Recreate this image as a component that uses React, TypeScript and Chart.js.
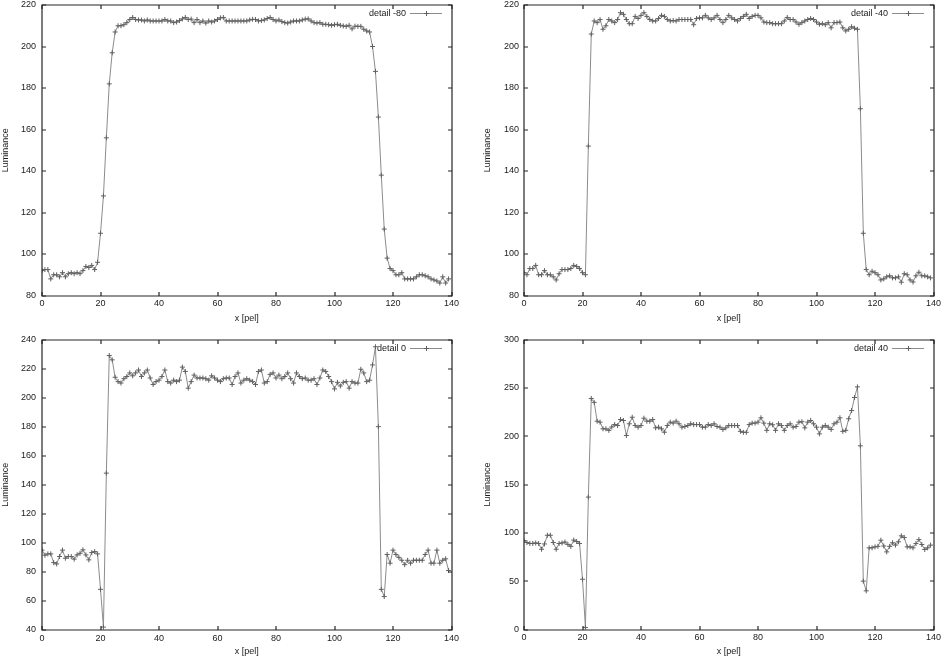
import React, { useEffect, useRef } from 'react';
import { Chart, registerables } from 'chart.js';

Chart.register(...registerables);

// ---------- data ----------
const PEL = Array.from({ length: 140 }, (_, i) => i);
const X_TICKS = [0, 20, 40, 60, 80, 100, 120, 140];
const X_TITLE = 'x [pel]';
const Y_TITLE = 'Luminance';

const SERIES_LABELS = ['detail -80', 'detail -40', 'detail 0', 'detail 40'];

const Y_TICKS_M80 = [80, 100, 120, 140, 160, 180, 200, 220];
const Y_TICKS_M40 = [80, 100, 120, 140, 160, 180, 200, 220];
const Y_TICKS_0 = [40, 60, 80, 100, 120, 140, 160, 180, 200, 220, 240];
const Y_TICKS_40 = [0, 50, 100, 150, 200, 250, 300];

const DETAIL_M80 = [
  92, 92.5, 92.5, 88, 90, 90, 89, 91, 89, 90.5,
  91, 90.5, 91, 90.5, 92, 94, 93.5, 94.5, 92.5, 96,
  110, 128, 156, 182, 197, 207, 210, 210, 210.5, 211.5,
  213, 214, 213, 212.8, 212.8, 212.3, 212.8, 212.3, 212.3, 212.3,
  212.3, 212.3, 213, 212.3, 212.3, 211.5, 211.8, 212.5, 213.3, 214,
  213, 213.2, 211.5, 213, 211.5, 212.3, 211.3, 212.3, 211.8, 212.3,
  213, 213.8, 214, 212.3, 212.3, 212.3, 212.3, 212.3, 212.3, 212.3,
  212.3, 212.8, 213.1, 213, 212.3, 212.5, 212.8, 213.5, 214, 213,
  212.3, 212.8, 212, 211.5, 211.3, 211.8, 212.3, 212.3, 212.3, 212.8,
  213.2, 213.3, 212.3, 211.5, 211.3, 211.5, 210.7, 210.7, 210.5, 210.2,
  210.5, 210.7, 210.2, 209.9, 209.7, 210.2, 208.5, 209.8, 209.7, 209.7,
  208.3, 207.5, 207, 200, 188, 166, 138, 112, 98, 93,
  92, 90, 90, 91, 88, 88, 88, 88, 89, 90,
  90, 89.5, 89, 88, 87.5, 87, 86, 89, 86, 88,
];

const DETAIL_M40 = [
  91, 90, 93, 93, 94.5, 90, 90, 92, 90, 90,
  89, 87.5, 90.5, 92.5, 92.5, 92.5, 93, 94.5, 94, 93,
  91, 90, 152, 206, 212.3, 211.5, 213, 208.3, 210, 213,
  212.3, 211.5, 213, 216.3, 215.5, 213, 211, 211, 214.5, 213.5,
  215, 216.3, 214.5, 213, 212.3, 212.3, 213.5, 215, 214.5, 213,
  212.3, 212.5, 212.3, 213, 213, 213, 213, 213, 210.5, 213.5,
  213.8, 213.8, 215, 213.8, 213, 213.8, 215, 213, 211.5, 213,
  215, 213.8, 213, 212.3, 213.5, 214.5, 215.5, 213.5, 214.5, 215,
  215, 213.8, 211.8, 211.5, 211.5, 211, 211, 211, 211, 212.3,
  214, 213, 213, 211.8, 210.7, 211.5, 212.3, 213, 213.5, 213,
  211.8, 210.7, 211, 210.5, 211.5, 209, 211.5, 211.5, 211.8, 209,
  207.5, 208.3, 209.5, 208.8, 208.3, 170, 110, 92.5, 90, 91.7,
  91, 90, 87.5, 88, 89, 89.5, 88.5, 88.5, 89, 86.4,
  90.5, 90, 87.5, 86.5, 89.5, 91.2, 89.5, 89.5, 89, 88.5,
];

const DETAIL_0 = [
  95, 91.5, 92.4, 92.4, 86.4, 85.5, 90.6, 95, 89.4, 90.6,
  90.6, 88.8, 91.7, 92.8, 95.2, 91.7, 88.3, 93.3, 94, 92.4,
  68, 42, 148, 229, 226, 214, 211, 210, 213, 214.5,
  217, 215, 217, 219, 214.5, 217, 219, 213.5, 209, 211,
  212, 214.5, 219, 211, 210, 212, 211, 212, 221, 218,
  206.5, 211, 215.5, 213.5, 213.5, 213.5, 213, 212, 215, 213.5,
  212, 211, 213, 213.5, 213.5, 209, 214.5, 217, 210, 212,
  213, 212, 211, 209, 218, 219, 210, 211, 216, 217,
  213.5, 215.5, 213, 214.5, 217, 213, 210, 217, 214.5, 213,
  213.5, 212, 212, 213, 209, 213.5, 219, 218, 214.5, 211,
  206, 210.5, 208, 210.5, 211, 206.5, 211, 210, 210, 219.5,
  217, 211, 212, 222.5, 235, 180, 68, 63, 92, 86,
  95, 92, 90, 88, 85, 88, 86, 88, 88, 88,
  88, 92, 95, 86, 86, 95, 86, 88, 89, 81,
];

const DETAIL_40 = [
  92, 90, 89, 89, 89.5, 89, 83, 88.5, 97.5, 97.5,
  90, 83, 89, 89.5, 90.5, 88, 86, 92.5, 91, 89,
  52, 2, 137, 239, 235, 215.5, 214.5, 207.6, 207.6, 206,
  209.5, 212, 211, 217.2, 216.2, 200.7, 212.8, 219.6, 211, 209.3,
  211, 218.6, 215.5, 215.5, 217.2, 208.6, 209.3, 207.6, 204.1, 211,
  214.5, 213.5, 215.5, 212.8, 209.3, 210, 211, 212.8, 212, 212,
  212, 209.3, 209.3, 212, 211, 212.8, 210, 209.3, 206.9, 208.6,
  211, 211, 211, 211, 205, 204, 204, 212, 213.5, 213.5,
  214.5, 219, 213.5, 206, 212.8, 211.8, 206, 212.8, 211, 206,
  211, 212.8, 209.3, 210, 214.5, 215, 208.6, 214.5, 216.2, 212.8,
  209.3, 202.4, 209.3, 211, 209.3, 206.9, 212.8, 214.5, 219, 205,
  206, 218, 226.5, 240, 251, 190, 50, 40, 84.5, 84.5,
  85.5, 86, 92.4, 86.4, 80.3, 86, 89.7, 87.3, 90.7, 96.9,
  95.2, 85.5, 85.5, 84.5, 88.9, 93, 87.9, 82.8, 84.5, 87.3,
];

// ---------- styles / layout ----------
const FONT_FAMILY = '"Liberation Sans", Arial, sans-serif';
const FONT_SIZE = 9;
const TEXT_COLOR = '#1a1a1a';
const FRAME_COLOR = '#262626';
const LINE_COLOR = '#8c8c8c';
const POINT_COLOR = '#606060';

type Panel = {
  label: string;
  values: number[];
  yTicks: number[];
  left: number;
  top: number;
  width: number;
  height: number;
  areaLeft: number;
  areaRight: number;
  areaTop: number;
  areaBottom: number;
  yLabelPad: number;
  yTitlePad: number;
  xTitlePad: number;
};

const PANELS: Panel[] = [
  {
    label: SERIES_LABELS[0], values: DETAIL_M80, yTicks: Y_TICKS_M80,
    left: 0, top: 0, width: 472, height: 329,
    areaLeft: 42, areaRight: 451.5, areaTop: 4, areaBottom: 295.5,
    yLabelPad: 6, yTitlePad: 0.5, xTitlePad: 5.5,
  },
  {
    label: SERIES_LABELS[1], values: DETAIL_M40, yTicks: Y_TICKS_M40,
    left: 472, top: 0, width: 472, height: 329,
    areaLeft: 52, areaRight: 461.5, areaTop: 4, areaBottom: 295.5,
    yLabelPad: 5, yTitlePad: 10.5, xTitlePad: 5.5,
  },
  {
    label: SERIES_LABELS[2], values: DETAIL_0, yTicks: Y_TICKS_0,
    left: 0, top: 330, width: 472, height: 329,
    areaLeft: 42, areaRight: 451.5, areaTop: 9.5, areaBottom: 300,
    yLabelPad: 6, yTitlePad: 0.5, xTitlePad: 2,
  },
  {
    label: SERIES_LABELS[3], values: DETAIL_40, yTicks: Y_TICKS_40,
    left: 472, top: 330, width: 472, height: 329,
    areaLeft: 52, areaRight: 461.5, areaTop: 9.5, areaBottom: 299.5,
    yLabelPad: 5, yTitlePad: 10.5, xTitlePad: 2,
  },
];

const TICK_LEN = 4;

// gnuplot-like frame with inward, mirrored ticks and the key
const gnuplotFrame = {
  id: 'gnuplotFrame',
  afterDraw(chart: any) {
    const ctx = chart.ctx;
    const a = chart.chartArea;
    const sx = chart.scales.x;
    const sy = chart.scales.y;
    const xl = Math.round(a.left);
    const xr = Math.round(a.right);
    const yt = Math.round(a.top);
    const yb = Math.round(a.bottom);

    ctx.save();
    ctx.strokeStyle = FRAME_COLOR;
    ctx.lineWidth = 1.2;
    ctx.lineCap = 'butt';
    ctx.beginPath();
    ctx.rect(xl, yt, xr - xl, yb - yt);
    ctx.stroke();

    ctx.beginPath();
    for (let i = 0; i < sx.ticks.length; i++) {
      const px = Math.round(sx.getPixelForValue(sx.ticks[i].value));
      ctx.moveTo(px, yb);
      ctx.lineTo(px, yb - TICK_LEN);
      ctx.moveTo(px, yt);
      ctx.lineTo(px, yt + TICK_LEN);
    }
    for (let i = 0; i < sy.ticks.length; i++) {
      const py = Math.round(sy.getPixelForValue(sy.ticks[i].value));
      ctx.moveTo(xl, py);
      ctx.lineTo(xl + TICK_LEN, py);
      ctx.moveTo(xr, py);
      ctx.lineTo(xr - TICK_LEN, py);
    }
    ctx.stroke();

    // key: label text then sample line with a point
    const ds = chart.data.datasets[0];
    const ky = Math.round(a.top + 8);
    ctx.font = `${FONT_SIZE}px ${FONT_FAMILY}`;
    ctx.fillStyle = TEXT_COLOR;
    ctx.textAlign = 'right';
    ctx.textBaseline = 'middle';
    ctx.fillText(ds.label, a.right - 45.5, ky + 0.5);
    const s0 = Math.round(a.right - 41.5);
    const s1 = Math.round(a.right - 9.5);
    ctx.fillStyle = LINE_COLOR;
    ctx.fillRect(s0, ky, s1 - s0, 1);
    const cx = Math.round((s0 + s1) / 2);
    ctx.fillStyle = POINT_COLOR;
    ctx.fillRect(cx - 2, ky, 5, 1);
    ctx.fillRect(cx, ky - 2, 1, 5);
    ctx.restore();
  },
};

function PanelChart({ p }: { p: Panel }) {
  const ref = useRef<HTMLCanvasElement | null>(null);
  useEffect(() => {
    if (!ref.current) return;
    const font = { family: FONT_FAMILY, size: FONT_SIZE };
    const noGrid = { display: false, drawTicks: false, tickLength: 0 };
    const chart = new Chart(ref.current, {
      type: 'line',
      data: {
        datasets: [
          {
            label: p.label,
            data: PEL.map((x, i) => ({ x, y: p.values[i] })),
            borderColor: LINE_COLOR,
            borderWidth: 1,
            tension: 0,
            fill: false,
            pointStyle: 'cross',
            pointRadius: 2.5,
            pointBorderWidth: 1,
            pointBorderColor: POINT_COLOR,
            pointBackgroundColor: POINT_COLOR,
          },
        ],
      },
      options: {
        responsive: false,
        animation: false,
        devicePixelRatio: 1,
        layout: {
          padding: {
            left: 0,
            top: p.areaTop,
            right: p.width - p.areaRight,
            bottom: 0,
          },
        },
        plugins: {
          legend: { display: false },
          tooltip: { enabled: false },
        },
        scales: {
          x: {
            type: 'linear',
            position: 'bottom',
            min: X_TICKS[0],
            max: X_TICKS[X_TICKS.length - 1],
            afterBuildTicks: (s: any) => {
              s.ticks = X_TICKS.map((value) => ({ value }));
            },
            afterFit: (s: any) => {
              s.height = p.height - p.areaBottom;
              s.paddingLeft = 0;
              s.paddingRight = 0;
            },
            grid: noGrid,
            border: { display: false },
            ticks: {
              padding: 3,
              color: TEXT_COLOR,
              font,
              maxRotation: 0,
              autoSkip: false,
            },
            title: {
              display: true,
              text: X_TITLE,
              color: TEXT_COLOR,
              font,
              padding: { top: 0, bottom: p.xTitlePad },
            },
          },
          y: {
            type: 'linear',
            position: 'left',
            min: p.yTicks[0],
            max: p.yTicks[p.yTicks.length - 1],
            afterBuildTicks: (s: any) => {
              s.ticks = p.yTicks.map((value) => ({ value }));
            },
            afterFit: (s: any) => {
              s.width = p.areaLeft;
              s.paddingTop = 0;
              s.paddingBottom = 0;
            },
            grid: noGrid,
            border: { display: false },
            ticks: {
              padding: p.yLabelPad,
              color: TEXT_COLOR,
              font,
              autoSkip: false,
            },
            title: {
              display: true,
              text: Y_TITLE,
              color: TEXT_COLOR,
              font,
              padding: { top: p.yTitlePad, bottom: 0 },
            },
          },
        },
      },
      plugins: [gnuplotFrame],
    } as any);
    return () => chart.destroy();
  }, [p]);

  return (
    <canvas
      ref={ref}
      width={p.width}
      height={p.height}
      style={{
        position: 'absolute',
        left: p.left,
        top: p.top,
        width: p.width,
        height: p.height,
      }}
    />
  );
}

export default function App() {
  return (
    <div style={{ position: 'absolute', left: 0, top: 0, width: 944, height: 659 }}>
      {PANELS.map((p, i) => (
        <PanelChart key={i} p={p} />
      ))}
    </div>
  );
}
